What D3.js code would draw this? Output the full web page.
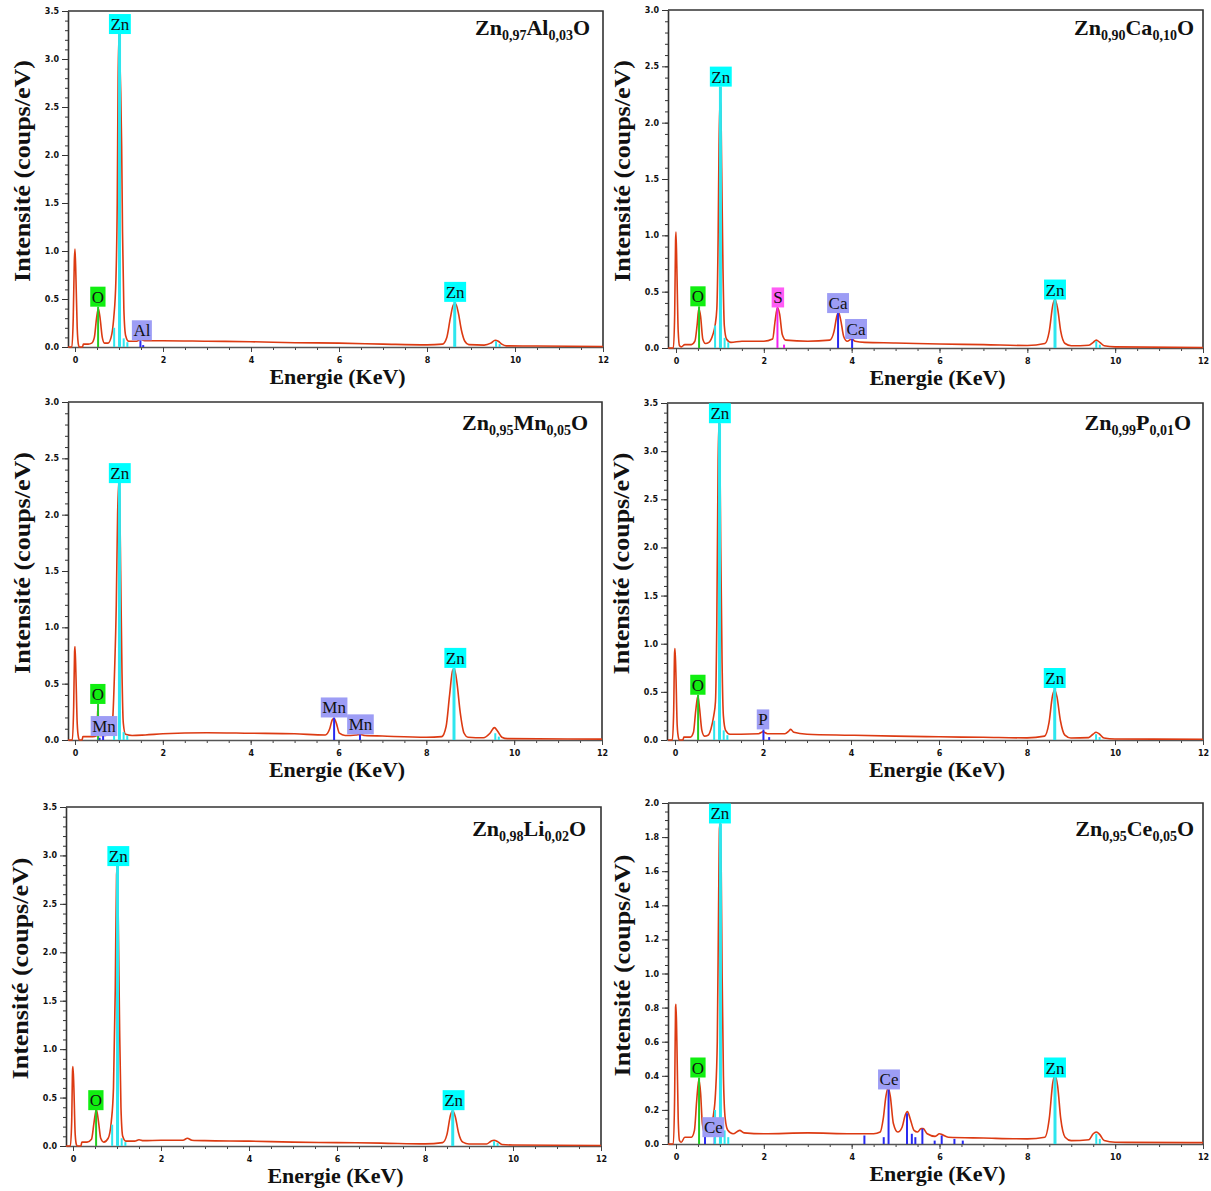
<!DOCTYPE html>
<html><head><meta charset="utf-8">
<script src="https://cdn.jsdelivr.net/npm/d3@7"></script>
<style>body{margin:0;background:#fff}</style>
</head><body>
<svg id="c" width="1211" height="1191" xmlns="http://www.w3.org/2000/svg"></svg>
<script>
// ---------- DATA ----------
const energyTicks = [0, 2, 4, 6, 8, 10, 12];
const yTicks35 = [0, 0.5, 1.0, 1.5, 2.0, 2.5, 3.0, 3.5];
const yTicks30 = [0, 0.5, 1.0, 1.5, 2.0, 2.5, 3.0];
const yTicks20 = [0, 0.2, 0.4, 0.6, 0.8, 1.0, 1.2, 1.4, 1.6, 1.8, 2.0];

const titleAl = [["Zn",""],["0,97","sub"],["Al",""],["0,03","sub"],["O",""]];
const titleCa = [["Zn",""],["0,90","sub"],["Ca",""],["0,10","sub"],["O",""]];
const titleMn = [["Zn",""],["0,95","sub"],["Mn",""],["0,05","sub"],["O",""]];
const titleP  = [["Zn",""],["0,99","sub"],["P",""],["0,01","sub"],["O",""]];
const titleLi = [["Zn",""],["0,98","sub"],["Li",""],["0,02","sub"],["O",""]];
const titleCe = [["Zn",""],["0,95","sub"],["Ce",""],["0,05","sub"],["O",""]];

// spectra: [energy keV, intensity counts/eV]
const spectrumAl = [[-0.16,0],[-0.07,0],[-0.04,0.3],[-0.015,0.9],[0,1.02],[0.02,0.75],[0.05,0.2],[0.08,0.02],[0.1,0],[0.17,0],[0.19,0.03],[0.3,0.03],[0.38,0.04],[0.44,0.1],[0.49,0.3],[0.53,0.40],[0.57,0.3],[0.62,0.1],[0.67,0.04],[0.75,0.04],[0.82,0.1],[0.88,0.3],[0.93,0.7],[0.96,1.5],[0.98,2.8],[1.0,3.25],[1.02,3.0],[1.04,2.65],[1.06,2.1],[1.08,1.2],[1.11,0.4],[1.15,0.12],[1.22,0.06],[1.4,0.06],[1.49,0.08],[1.58,0.065],[2,0.065],[3,0.06],[4,0.055],[5,0.045],[6,0.04],[7,0.03],[8,0.022],[8.35,0.03],[8.45,0.1],[8.53,0.3],[8.6,0.44],[8.65,0.45],[8.71,0.36],[8.78,0.18],[8.86,0.06],[8.95,0.025],[9.3,0.02],[9.45,0.04],[9.55,0.07],[9.62,0.06],[9.7,0.03],[9.8,0.012],[10.5,0.01],[12,0.005]];
const spectrumCa = [[-0.18,0],[-0.06,0],[-0.03,0.3],[-0.01,0.95],[0,1.03],[0.02,0.7],[0.05,0.15],[0.08,0.02],[0.12,0.01],[0.2,0.03],[0.35,0.03],[0.43,0.06],[0.48,0.2],[0.52,0.35],[0.56,0.28],[0.61,0.08],[0.67,0.04],[0.75,0.05],[0.84,0.12],[0.89,0.2],[0.93,0.35],[0.96,1.0],[0.98,1.8],[1.0,2.2],[1.02,2.15],[1.04,1.6],[1.07,0.7],[1.1,0.2],[1.15,0.08],[1.25,0.05],[1.5,0.06],[2.0,0.06],[2.2,0.08],[2.26,0.25],[2.31,0.36],[2.36,0.3],[2.42,0.12],[2.5,0.07],[3.0,0.06],[3.5,0.07],[3.6,0.15],[3.66,0.28],[3.7,0.32],[3.75,0.25],[3.82,0.1],[3.9,0.06],[4.0,0.08],[4.08,0.06],[4.3,0.05],[5,0.045],[6,0.035],[7,0.03],[8,0.022],[8.4,0.04],[8.5,0.15],[8.58,0.38],[8.63,0.43],[8.69,0.35],[8.76,0.15],[8.86,0.04],[9.0,0.02],[9.4,0.025],[9.5,0.05],[9.57,0.07],[9.65,0.05],[9.75,0.02],[10,0.01],[12,0.005]];
const spectrumMn = [[-0.16,0],[-0.06,0],[-0.03,0.3],[-0.01,0.78],[0,0.83],[0.02,0.6],[0.05,0.15],[0.08,0.02],[0.1,0],[0.16,0],[0.18,0.03],[0.4,0.03],[0.5,0.04],[0.52,0.3],[0.54,0.04],[0.7,0.04],[0.8,0.06],[0.86,0.2],[0.9,0.6],[0.94,1.2],[0.97,2.0],[1.0,2.3],[1.02,2.1],[1.04,1.5],[1.07,0.6],[1.1,0.15],[1.15,0.05],[1.3,0.04],[1.6,0.045],[2,0.055],[3,0.065],[4,0.06],[5,0.055],[5.7,0.045],[5.8,0.1],[5.86,0.18],[5.9,0.19],[5.95,0.15],[6.02,0.06],[6.15,0.04],[6.4,0.045],[6.5,0.05],[6.6,0.04],[7,0.035],[8,0.025],[8.35,0.03],[8.45,0.12],[8.53,0.4],[8.6,0.62],[8.64,0.63],[8.7,0.5],[8.77,0.25],[8.86,0.06],[8.95,0.025],[9.3,0.02],[9.45,0.06],[9.55,0.11],[9.62,0.08],[9.72,0.025],[9.85,0.012],[12,0.008]];
const spectrumP = [[-0.16,0],[-0.06,0],[-0.03,0.3],[-0.01,0.9],[0,0.95],[0.02,0.7],[0.05,0.15],[0.08,0.02],[0.1,0],[0.18,0],[0.2,0.03],[0.35,0.03],[0.42,0.08],[0.47,0.3],[0.52,0.46],[0.56,0.32],[0.61,0.1],[0.67,0.04],[0.75,0.05],[0.82,0.12],[0.88,0.25],[0.92,0.4],[0.95,1.2],[0.98,2.9],[1.0,3.3],[1.02,3.0],[1.04,2.0],[1.07,0.8],[1.1,0.25],[1.15,0.1],[1.25,0.06],[1.5,0.06],[1.9,0.065],[2.0,0.085],[2.1,0.065],[2.5,0.065],[2.58,0.09],[2.63,0.11],[2.7,0.08],[3,0.06],[4,0.05],[5,0.04],[6,0.033],[7,0.028],[8,0.022],[8.4,0.04],[8.5,0.18],[8.58,0.46],[8.63,0.52],[8.68,0.45],[8.76,0.2],[8.86,0.05],[9.0,0.02],[9.4,0.025],[9.5,0.06],[9.57,0.08],[9.65,0.06],[9.75,0.02],[10,0.01],[12,0.008]];
const spectrumLi = [[-0.16,0],[-0.06,0],[-0.03,0.25],[-0.01,0.78],[0,0.82],[0.02,0.6],[0.05,0.12],[0.08,0.01],[0.1,0],[0.18,0],[0.2,0.04],[0.32,0.04],[0.42,0.07],[0.48,0.25],[0.53,0.38],[0.58,0.25],[0.63,0.08],[0.7,0.04],[0.8,0.08],[0.87,0.25],[0.92,0.6],[0.96,1.6],[0.99,2.8],[1.01,2.88],[1.03,2.3],[1.06,1.2],[1.09,0.4],[1.13,0.1],[1.2,0.05],[1.4,0.05],[1.5,0.065],[1.6,0.055],[2,0.06],[2.5,0.06],[2.6,0.08],[2.7,0.06],[3,0.055],[4,0.05],[5,0.04],[6,0.035],[7,0.03],[8,0.022],[8.4,0.035],[8.5,0.12],[8.58,0.32],[8.63,0.36],[8.69,0.3],[8.76,0.14],[8.86,0.04],[9.0,0.02],[9.4,0.02],[9.5,0.05],[9.57,0.06],[9.65,0.045],[9.75,0.015],[10,0.01],[12,0.005]];
const spectrumCe = [[-0.18,0],[-0.06,0],[-0.03,0.3],[-0.01,0.8],[0,0.82],[0.02,0.6],[0.05,0.15],[0.08,0.02],[0.12,0.01],[0.2,0.04],[0.35,0.04],[0.42,0.08],[0.47,0.25],[0.52,0.38],[0.56,0.3],[0.6,0.12],[0.66,0.06],[0.76,0.08],[0.84,0.15],[0.9,0.3],[0.94,0.6],[0.97,1.4],[0.99,1.85],[1.01,1.88],[1.03,1.6],[1.05,1.0],[1.08,0.4],[1.12,0.15],[1.18,0.08],[1.3,0.06],[1.45,0.08],[1.55,0.065],[2,0.06],[3,0.065],[4,0.06],[4.5,0.06],[4.65,0.07],[4.72,0.15],[4.78,0.28],[4.83,0.33],[4.88,0.28],[4.95,0.12],[5.05,0.07],[5.15,0.1],[5.22,0.17],[5.27,0.19],[5.33,0.15],[5.42,0.08],[5.5,0.07],[5.58,0.09],[5.63,0.09],[5.72,0.06],[5.9,0.045],[6.0,0.06],[6.06,0.055],[6.2,0.04],[7,0.035],[8,0.03],[8.4,0.04],[8.5,0.15],[8.58,0.36],[8.63,0.40],[8.69,0.34],[8.76,0.15],[8.86,0.04],[9.0,0.02],[9.4,0.025],[9.5,0.06],[9.57,0.07],[9.65,0.055],[9.75,0.02],[10,0.01],[12,0.008]];

// element line markers: [energy, height, element]
const markersAl = [[0.525,0.42,"O"],[0.89,0.2,"Zn"],[1.012,3.26,"Zn"],[1.107,0.09,"Zn"],[1.19,0.05,"Zn"],[1.487,0.07,"X"],[1.55,0.02,"X"],[8.63,0.47,"ZnK"],[9.57,0.06,"Zn"],[9.65,0.03,"Zn"]];
const markersCa = [[0.525,0.37,"O"],[0.89,0.2,"Zn"],[1.012,2.32,"Zn"],[1.107,0.09,"Zn"],[1.19,0.05,"Zn"],[2.31,0.36,"S"],[2.46,0.03,"S"],[3.69,0.31,"X"],[4.01,0.08,"X"],[8.63,0.43,"ZnK"],[9.57,0.06,"Zn"],[9.65,0.03,"Zn"]];
const markersMn = [[0.525,0.32,"O"],[0.56,0.02,"X"],[0.64,0.035,"X"],[0.89,0.1,"Zn"],[1.012,2.28,"Zn"],[1.107,0.07,"Zn"],[1.19,0.04,"Zn"],[5.9,0.2,"X"],[6.49,0.05,"X"],[8.63,0.64,"ZnK"],[9.57,0.06,"Zn"],[9.65,0.03,"Zn"]];
const markersP = [[0.525,0.47,"O"],[0.89,0.2,"Zn"],[1.012,3.29,"Zn"],[1.107,0.1,"Zn"],[1.19,0.05,"Zn"],[2.01,0.11,"X"],[2.14,0.03,"X"],[8.63,0.54,"ZnK"],[9.57,0.06,"Zn"],[9.65,0.03,"Zn"]];
const markersLi = [[0.525,0.37,"O"],[0.89,0.22,"Zn"],[1.012,2.89,"Zn"],[1.107,0.08,"Zn"],[1.19,0.04,"Zn"],[8.63,0.37,"ZnK"],[9.57,0.05,"Zn"],[9.65,0.03,"Zn"]];
const markersCe = [[0.525,0.39,"O"],[0.66,0.05,"X"],[0.88,0.04,"X"],[0.89,0.2,"Zn"],[1.012,1.88,"Zn"],[1.107,0.08,"Zn"],[1.19,0.04,"Zn"],[4.29,0.05,"X"],[4.73,0.04,"X"],[4.84,0.32,"X"],[5.26,0.18,"X"],[5.37,0.06,"X"],[5.45,0.04,"X"],[5.61,0.09,"X"],[5.89,0.02,"X"],[6.05,0.05,"X"],[6.34,0.03,"X"],[6.53,0.02,"X"],[8.63,0.39,"ZnK"],[9.57,0.06,"Zn"],[9.65,0.03,"Zn"]];

// labels: [text, energy, value of box bottom, element]
const labelsAl = [["Zn",1.02,3.26,"Zn"],["O",0.52,0.42,"O"],["Al",1.52,0.07,"X"],["Zn",8.64,0.47,"Zn"]];
const labelsCa = [["Zn",1.02,2.32,"Zn"],["O",0.5,0.37,"O"],["S",2.32,0.36,"S"],["Ca",3.69,0.31,"X"],["Ca",4.1,0.08,"X"],["Zn",8.63,0.43,"Zn"]];
const labelsMn = [["Zn",1.02,2.28,"Zn"],["O",0.52,0.32,"O"],["Mn",0.66,0.035,"X"],["Mn",5.9,0.2,"X"],["Mn",6.5,0.05,"X"],["Zn",8.66,0.64,"Zn"]];
const labelsP  = [["Zn",1.02,3.29,"Zn"],["O",0.52,0.47,"O"],["P",2.0,0.11,"X"],["Zn",8.63,0.54,"Zn"]];
const labelsLi = [["Zn",1.03,2.89,"Zn"],["O",0.52,0.37,"O"],["Zn",8.65,0.37,"Zn"]];
const labelsCe = [["Zn",1.0,1.88,"Zn"],["O",0.5,0.39,"O"],["Ce",4.85,0.32,"X"],["Ce",0.85,0.04,"X"],["Zn",8.63,0.39,"Zn"]];

// ---------- STYLE / LAYOUT ----------
const boxColor = {Zn:"#00ffff", O:"#11ee11", X:"#9d9df5", S:"#ff5cf5"};
const markColor = {Zn:"#2ee6ee", ZnK:"#2ee6ee", O:"#22cc22", X:"#2a2af0", S:"#f020f0"};
const specColor = "#dc3a12";

const panels = [
  {title:titleAl, spec:spectrumAl, marks:markersAl, labels:labelsAl, yt:yTicks35, ymax:3.5, minor:0.1, L:68, R:603, T:11, B:347, x0:75, tx:590, ty:35},
  {title:titleCa, spec:spectrumCa, marks:markersCa, labels:labelsCa, yt:yTicks30, ymax:3.0, minor:0.1, L:668, R:1203, T:10, B:348, x0:676, tx:1194, ty:35},
  {title:titleMn, spec:spectrumMn, marks:markersMn, labels:labelsMn, yt:yTicks30, ymax:3.0, minor:0.1, L:68, R:602, T:402, B:740, x0:75, tx:588, ty:430},
  {title:titleP,  spec:spectrumP,  marks:markersP,  labels:labelsP,  yt:yTicks35, ymax:3.5, minor:0.1, L:667, R:1203, T:403, B:740, x0:675, tx:1191, ty:430},
  {title:titleLi, spec:spectrumLi, marks:markersLi, labels:labelsLi, yt:yTicks35, ymax:3.5, minor:0.1, L:66, R:601, T:807, B:1146, x0:73, tx:586, ty:836},
  {title:titleCe, spec:spectrumCe, marks:markersCe, labels:labelsCe, yt:yTicks20, ymax:2.0, minor:0.05, L:668, R:1203, T:803, B:1144, x0:676, tx:1194, ty:836}
];

const svg = d3.select("#c");
const serif = "'Liberation Serif','Times New Roman',serif";
const sans = "'DejaVu Sans',Verdana,sans-serif";

panels.forEach(p => {
  const pxPerKeV = (p.R - p.x0) / 12;
  const xmin = (p.L - p.x0) / pxPerKeV;
  const x = d3.scaleLinear().domain([xmin, 12]).range([p.L, p.R]);
  const y = d3.scaleLinear().domain([0, p.ymax]).range([p.B, p.T]);
  const g = svg.append("g");

  // frame: top & right
  g.append("path").attr("d", `M${p.L},${p.T}H${p.R}V${p.B}`).attr("fill","none").attr("stroke","#333").attr("stroke-width",1.6);

  // y minor ticks
  const nMinor = Math.round(p.ymax / p.minor);
  const minorVals = d3.range(nMinor + 1).map(i => i * p.minor);
  g.append("g").attr("transform",`translate(${p.L},0)`)
    .call(d3.axisLeft(y).tickValues(minorVals).tickSize(3).tickFormat(""))
    .call(a => { a.select(".domain").remove(); a.selectAll("line").attr("stroke","#333"); });
  // y major axis
  g.append("g").attr("transform",`translate(${p.L},0)`)
    .call(d3.axisLeft(y).tickValues(p.yt).tickSize(6).tickSizeOuter(0).tickPadding(3).tickFormat(d3.format(".1f")))
    .call(a => {
      a.select(".domain").attr("stroke","#333").attr("stroke-width",1.6);
      a.selectAll("line").attr("stroke","#333");
      a.selectAll("text").attr("font-family",sans).attr("font-weight","bold").attr("font-size",8).attr("fill","#111");
    });

  // x minor ticks
  const xMinor = d3.range(0, 24.5).map(i => i * 0.5);
  g.append("g").attr("transform",`translate(0,${p.B})`)
    .call(d3.axisBottom(x).tickValues(xMinor).tickSize(3).tickFormat(""))
    .call(a => { a.select(".domain").remove(); a.selectAll("line").attr("stroke","#444"); });
  g.append("g").attr("transform",`translate(0,${p.B})`)
    .call(d3.axisBottom(x).tickValues(energyTicks).tickSize(5).tickSizeOuter(0).tickPadding(5).tickFormat(d3.format("d")))
    .call(a => {
      a.select(".domain").attr("stroke","#555").attr("stroke-width",1.6);
      a.selectAll("line").attr("stroke","#444");
      a.selectAll("text").attr("font-family",sans).attr("font-weight","bold").attr("font-size",8).attr("fill","#111");
    });

  // spectrum
  const line = d3.line().x(d => x(d[0])).y(d => y(d[1])).curve(d3.curveMonotoneX);
  g.append("path").datum(p.spec).attr("d", line).attr("fill","none").attr("stroke",specColor).attr("stroke-width",1.6);

  // markers
  g.selectAll(".mk").data(p.marks).enter().append("line")
    .attr("x1", d => x(d[0])).attr("x2", d => x(d[0]))
    .attr("y1", y(0)).attr("y2", d => y(d[1]))
    .attr("stroke", d => markColor[d[2]])
    .attr("stroke-width", d => (d[2]==="Zn" && d[1] > 1) || d[2]==="ZnK" ? 3 : 2);

  // labels
  p.labels.forEach(l => {
    const cx = x(l[1]), by = y(l[2]);
    const lg = g.append("g");
    const t = lg.append("text").attr("x", cx).attr("y", by - 4).attr("text-anchor","middle")
      .attr("font-family", serif).attr("font-size", 17).attr("fill","#111").text(l[0]);
    const w = t.node().getComputedTextLength();
    lg.insert("rect","text").attr("x", cx - w/2 - 1.5).attr("y", by - 20).attr("width", w + 3).attr("height", 20)
      .attr("fill", boxColor[l[3]]);
  });

  // title
  const tt = g.append("text").attr("x", p.tx).attr("y", p.ty).attr("text-anchor","end")
    .attr("font-family", serif).attr("font-weight","bold").attr("font-size",22).attr("fill","#111");
  p.title.forEach(part => {
    const ts = tt.append("tspan").text(part[0]);
    if (part[1] === "sub") ts.attr("font-size",14).attr("dy",5);
    else ts.attr("dy", tt.selectAll("tspan").size() > 1 ? -5 : 0);
  });

  // axis titles
  g.append("text").attr("x", (p.L + p.R)/2 + 2).attr("y", p.B + 37).attr("text-anchor","middle")
    .attr("font-family", serif).attr("font-weight","bold").attr("font-size",22).attr("fill","#111")
    .text("Energie (KeV)");
  g.append("text").attr("transform", `translate(${p.L - 38},${(p.T + p.B)/2 - 8}) rotate(-90)`).attr("text-anchor","middle")
    .attr("font-family", serif).attr("font-weight","bold").attr("font-size",23).attr("fill","#111")
    .attr("textLength", 222).attr("lengthAdjust","spacingAndGlyphs")
    .text("Intensité (coups/eV)");
});
</script>
</body></html>
